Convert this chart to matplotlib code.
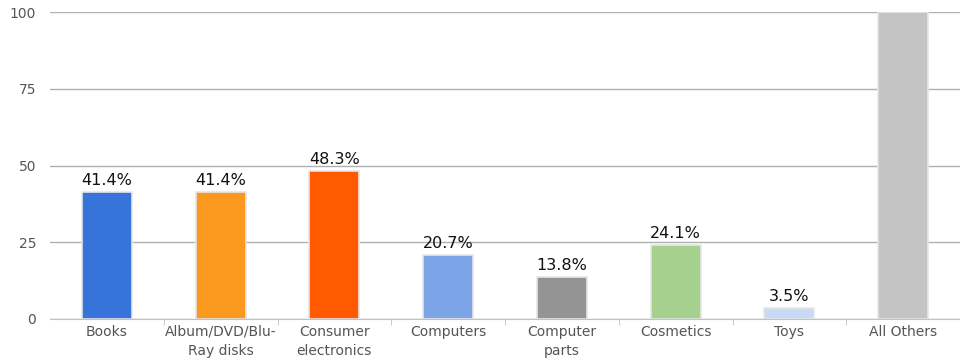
import matplotlib
matplotlib.use("Agg")
import matplotlib.pyplot as plt

categories = ["Books", "Album/DVD/Blu-\nRay disks", "Consumer\nelectronics", "Computers",
              "Computer\nparts", "Cosmetics", "Toys", "All Others"]
values = [41.4, 41.4, 48.3, 20.7, 13.8, 24.1, 3.5, 100.0]
labels = ["41.4%", "41.4%", "48.3%", "20.7%", "13.8%", "24.1%", "3.5%", ""]
colors = ["#3674d9", "#fb981e", "#ff5a00", "#7ca5e8", "#949494", "#a6d08d", "#c8daf5", "#c4c4c4"]
yticks = [0, 25, 50, 75, 100]

fig = plt.figure(figsize=(9.6, 3.6), dpi=100)
ax = fig.add_axes([50/960, 1-319/360, 910/960, 307/360])

x = list(range(len(categories)))
bars = ax.bar(x, values, width=0.44, color=colors, edgecolor="#e6e6e6", linewidth=1.2, zorder=3)
for b, lab in zip(bars, labels):
    if lab:
        ax.text(b.get_x() + b.get_width()/2, b.get_height() + 1.3, lab,
                ha="center", va="bottom", fontsize=11.5, color="#111111", zorder=4)

ax.set_xlim(-0.5, len(categories) - 0.5)
ax.set_ylim(0, 100)
ax.set_yticks(yticks)
ax.set_yticklabels([str(t) for t in yticks], color="#555555", fontsize=10)
ax.yaxis.grid(True, color="#b0b0b0", linewidth=1, zorder=0)
ax.tick_params(axis="y", length=0, pad=10)

ax.set_xticks(x)
ax.set_xticklabels(categories, color="#555555", fontsize=10, linespacing=1.45)
ax.set_xticks([i + 0.5 for i in x[:-1]], minor=True)
ax.tick_params(axis="x", which="major", length=0, pad=4)
ax.tick_params(axis="x", which="minor", length=4, color="#b8c4d0")

for s in ["top", "right", "left"]:
    ax.spines[s].set_visible(False)
ax.spines["bottom"].set_color("#b8c4d0")
ax.spines["bottom"].set_zorder(5)

fig.savefig("out.png", dpi=100)
